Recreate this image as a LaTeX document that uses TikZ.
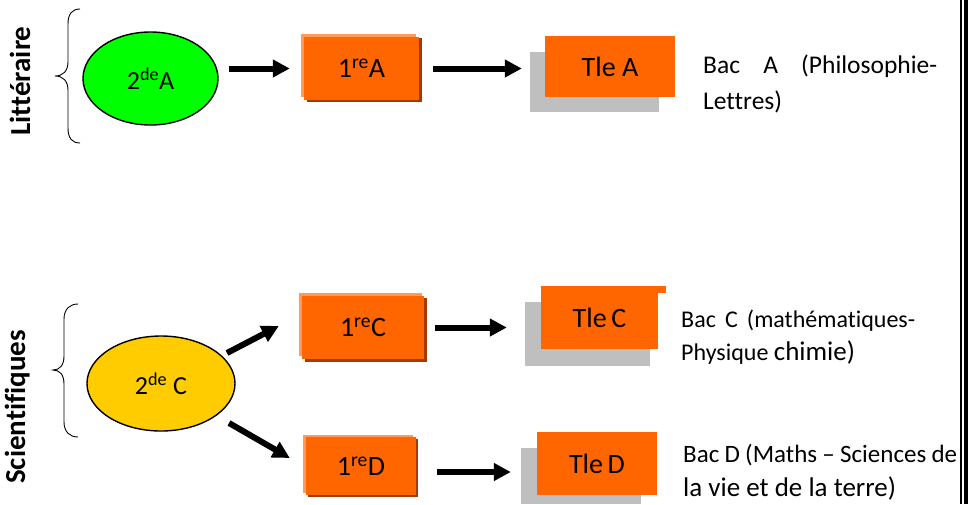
\documentclass[tikz,border=0pt]{standalone}
\usepackage{fontspec}
\setmainfont{Carlito}[Ligatures={NoCommon}]
\usetikzlibrary{arrows.meta,calc,shapes.geometric}
\definecolor{org}{HTML}{FF6600}
\definecolor{orgL}{HTML}{FF9A5C}
\definecolor{orgD}{HTML}{A33A00}
\definecolor{shad}{HTML}{BFBFBF}
\definecolor{grn}{HTML}{00FF00}
\definecolor{ylw}{HTML}{FFCC00}
\begin{document}
\begin{tikzpicture}[x=1pt,y=-1pt,
 ell/.style={ellipse, draw=black, line width=1.4pt, inner sep=0pt, font=\fontsize{26}{30}\selectfont},
 obox/.style={rectangle, fill=org, inner sep=0pt, font=\fontsize{28}{32}\selectfont},
 arr/.style={line width=6pt, -{Triangle[length=17pt,width=17pt]}},
 desc/.style={inner sep=0pt, anchor=base west},
 lbl/.style={rotate=90, anchor=base, inner sep=0pt, font=\fontsize{29}{32}\selectfont\bfseries},
 brc/.style={line width=0.9pt}
]
\useasboundingbox (0,0) rectangle (968,504);
\fill[white] (0,0) rectangle (968,504);

% side labels and braces
\node[lbl] (litt) at (30,81) {Littéraire};
\node[lbl] (sci) at (25,407) {Scientifiques};
\draw[brc] (80,9) .. controls (72,9) and (68,14) .. (68,24) -- (68,62) .. controls (68,71) and (63,76) .. (55,76) .. controls (63,76) and (68,81) .. (68,90) -- (68,128) .. controls (68,138) and (72,143) .. (80,143);
\draw[brc] (78,304) .. controls (70,304) and (64,309) .. (64,319) -- (64,356) .. controls (64,365) and (60,370) .. (53,370) .. controls (60,370) and (64,375) .. (64,384) -- (64,422) .. controls (64,432) and (70,437) .. (78,437);

% ellipses
\node[ell, fill=grn, minimum width=135pt, minimum height=93pt] (eA) at (150.5,78.5) {2\textsuperscript{de}A};
\node[ell, fill=ylw, minimum width=148pt, minimum height=95pt] (eC) at (161,383.5) {2\textsuperscript{de} C};

% 1re A
\fill[orgL] (301,34) rectangle (416,97);
\fill[orgD] (307,38) rectangle (422,102);
\node[obox, minimum width=115pt, minimum height=63pt] (b1A) at (361.5,68.5) {1\textsuperscript{re}A};
% Tle A
\fill[shad] (530,52) rectangle (659,112);
\node[obox, minimum width=130pt, minimum height=61pt] (tA) at (610,66.5) {Tle A};

% 1re C
\fill[orgL] (299,293) rectangle (422,356);
\fill[orgD] (305,298) rectangle (427,362);
\node[obox, minimum width=122pt, minimum height=63pt] (b1C) at (363,327.5) {1\textsuperscript{re}C};
% Tle C
\fill[shad] (525,302) rectangle (650,366);
\fill[org] (650,286) rectangle (666,293);
\node[obox, minimum width=117pt, minimum height=63pt] (tC) at (599.5,317.5) {Tle\,C};

% 1re D
\fill[orgL] (303,435) rectangle (413,493);
\fill[orgD] (308,439) rectangle (418,497);
\node[obox, minimum width=110pt, minimum height=58pt] (b1D) at (361,466) {1\textsuperscript{re}D};
% Tle D
\fill[shad] (521,448) rectangle (641,504);
\node[obox, minimum width=120pt, minimum height=63pt] (tD) at (597,463.5) {Tle\,D};

% arrows
\draw[arr, shorten <=10pt, shorten >=14pt] (eA.east |- b1A.west) -- (b1A.west);
\draw[arr, shorten <=14pt, shorten >=23pt] (b1A.east) -- (b1A.east -| tA.west);
\draw[arr] ($(eC.center)+(66,-30.5)$) -- ($(b1C.west)+(-23,-1.5)$);
\draw[arr] ($(eC.center)+(68,39.5)$) -- ($(b1D.west)+(-16,-8)$);
\draw[arr, shorten <=11pt, shorten >=34pt] (b1C.east) -- (b1C.east -| tC.west);
\draw[arr, shorten <=21pt, shorten >=26pt] ([yshift=-6pt]b1D.east) -- ([yshift=-6pt]b1D.east -| tD.west);

% descriptions
\node[desc, font=\fontsize{25.5}{36}\selectfont] (dA) at (703,73) {\parbox[t]{240pt}{\makebox[234pt][s]{Bac A (Philosophie-}\\Lettres)}};
\node[desc, font=\fontsize{24}{33}\selectfont] (dC) at (681,327) {\parbox[t]{240pt}{\makebox[234pt][s]{Bac C (mathématiques-}\\Physique {\fontsize{27}{33}\selectfont chimie)}}};
\node[desc, font=\fontsize{25}{34}\selectfont] (dD) at (683,462) {\parbox[t]{280pt}{\makebox[274pt][s]{Bac D (Maths – Sciences de}\\{\fontsize{27}{34}\selectfont la vie et de la terre)}}};

% right border
\fill[black] (959.5,0) rectangle (962,504);
\fill[black] (963.5,0) rectangle (968,504);
\end{tikzpicture}
\end{document}
